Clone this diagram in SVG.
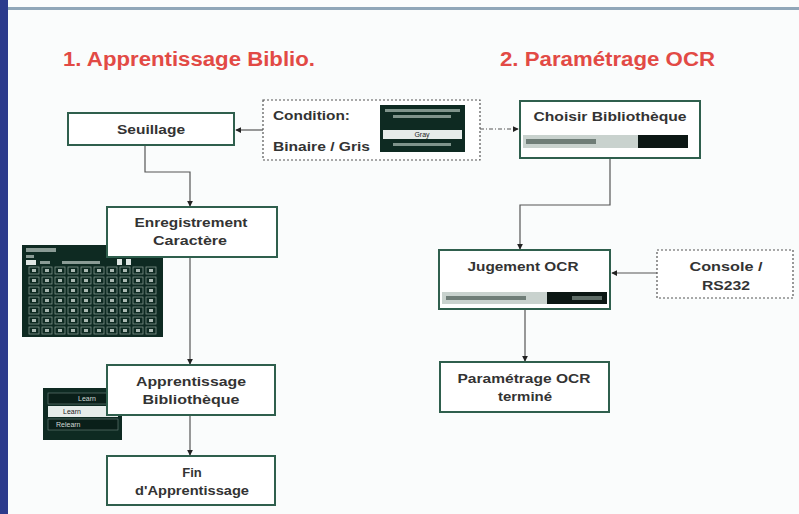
<svg xmlns="http://www.w3.org/2000/svg" width="799" height="514" viewBox="0 0 799 514">
<defs>
<style>
.bg{fill:#fafcfc}
.title{font-family:"Liberation Sans",Arial,sans-serif;font-weight:bold;font-size:20px;fill:#e24a45}
.node rect.box{fill:#ffffff;stroke:#2f5f4d;stroke-width:2}
.dash{fill:#ffffff;stroke:#555;stroke-width:1.2;stroke-dasharray:2 2}
.lbl{font-family:"Liberation Sans",Arial,sans-serif;font-weight:bold;font-size:13px;fill:#333}
.ctr{text-anchor:middle}
.conn{fill:none;stroke:#555;stroke-width:1.2}
.dd{stroke-dasharray:4 2 1 2}
.scr{fill:#0e2a22}
.scrtxt{font-family:"Liberation Sans",Arial,sans-serif;font-size:7px;fill:#cfd8d4}
.scrtxtd{font-family:"Liberation Sans",Arial,sans-serif;font-size:7px;fill:#222}
</style>
<marker id="ah" viewBox="0 0 8 8" refX="7" refY="4" markerWidth="6" markerHeight="6" orient="auto" markerUnits="userSpaceOnUse">
<path d="M0,0 L8,4 L0,8 Z" fill="#222"/>
</marker>
<pattern id="grid" x="28" y="266" width="13" height="10" patternUnits="userSpaceOnUse">
<rect x="1" y="1" width="10" height="7" fill="none" stroke="#7f938b" stroke-width="0.8"/>
<rect x="4" y="3" width="4" height="3" fill="#aab8b2"/>
</pattern>
</defs>
<rect class="bg" x="0" y="0" width="799" height="514"/>
<rect x="0" y="0" width="8" height="514" fill="#2c3b8c"/>
<rect x="8" y="7" width="791" height="3" fill="#8fa6b8"/>

<text class="title" x="63" y="66" textLength="252" lengthAdjust="spacingAndGlyphs">1. Apprentissage Biblio.</text>
<text class="title" x="500" y="66" textLength="215" lengthAdjust="spacingAndGlyphs">2. Paramétrage OCR</text>

<g id="connectors">
<line class="conn" x1="263" y1="130" x2="236" y2="130" marker-end="url(#ah)"/>
<line class="conn dd" x1="480" y1="129" x2="518" y2="129" marker-end="url(#ah)"/>
<polyline class="conn" points="145,146 145,172 190,172 190,206" marker-end="url(#ah)"/>
<line class="conn" x1="190" y1="258" x2="190" y2="364" marker-end="url(#ah)"/>
<line class="conn" x1="190" y1="416" x2="190" y2="455" marker-end="url(#ah)"/>
<polyline class="conn" points="610,159 610,205 520,205 520,249" marker-end="url(#ah)"/>
<line class="conn" x1="657" y1="273" x2="612" y2="273" marker-end="url(#ah)"/>
<line class="conn" x1="525" y1="310" x2="525" y2="361" marker-end="url(#ah)"/>
</g>

<g id="screen-grid">
<rect class="scr" x="22" y="245" width="141" height="92"/>
<rect x="26" y="248" width="30" height="4" fill="#8a9b95"/>
<rect x="26" y="255" width="8" height="3" fill="#8a9b95"/>
<rect x="26" y="260" width="10" height="5" fill="#dfe6e3"/>
<rect x="40" y="261" width="10" height="3" fill="#8a9b95"/>
<rect x="62" y="261" width="38" height="3" fill="#8a9b95"/>
<rect x="117" y="259" width="5" height="6" fill="#dfe6e3"/>
<rect x="126" y="259" width="5" height="6" fill="#dfe6e3"/>
<rect x="28" y="266" width="130" height="70" fill="url(#grid)"/>
</g>

<g id="screen-learn">
<rect class="scr" x="43" y="388" width="79" height="52"/>
<rect x="48" y="393" width="70" height="11" fill="#0a1f19" stroke="#6f8580" stroke-width="0.6"/>
<text class="scrtxt" x="78" y="401">Learn</text>
<rect x="48" y="406" width="70" height="11" fill="#e6ecea"/>
<text class="scrtxtd" x="63" y="414">Learn</text>
<rect x="48" y="419" width="70" height="11" fill="#0a1f19" stroke="#6f8580" stroke-width="0.6"/>
<text class="scrtxt" x="56" y="427">Relearn</text>
</g>

<g id="n-seuillage" class="node">
<rect class="box" x="68" y="113" width="166" height="32"/>
<text class="lbl ctr" x="151" y="134" textLength="68" lengthAdjust="spacingAndGlyphs">Seuillage</text>
</g>

<g id="n-condition" class="node">
<rect class="dash" x="263" y="100" width="217" height="60"/>
<text class="lbl" x="273" y="120" textLength="77" lengthAdjust="spacingAndGlyphs">Condition:</text>
<text class="lbl" x="273" y="151" textLength="97" lengthAdjust="spacingAndGlyphs">Binaire / Gris</text>
<rect class="scr" x="380" y="105" width="85" height="47"/>
<rect x="385" y="109" width="75" height="3" fill="#7f938b"/>
<rect x="393" y="115" width="58" height="3" fill="#7f938b"/>
<rect x="383" y="130" width="79" height="9" fill="#e6ecea"/>
<text class="scrtxtd ctr" x="422" y="137">Gray</text>
<rect x="393" y="143" width="58" height="3" fill="#7f938b"/>
</g>

<g id="n-choisir" class="node">
<rect class="box" x="520" y="101" width="180" height="57"/>
<text class="lbl ctr" x="610" y="121" textLength="153" lengthAdjust="spacingAndGlyphs">Choisir Bibliothèque</text>
<rect x="523" y="135" width="115" height="13" fill="#c9d2ce"/>
<rect x="638" y="135" width="50" height="13" fill="#0c1714"/>
<rect x="526" y="139" width="70" height="5" fill="#6f7d77"/>
</g>

<g id="n-enregistrement" class="node">
<rect class="box" x="107" y="207" width="170" height="50"/>
<text class="lbl ctr" x="191" y="227" textLength="113" lengthAdjust="spacingAndGlyphs">Enregistrement</text>
<text class="lbl ctr" x="190" y="245" textLength="74" lengthAdjust="spacingAndGlyphs">Caractère</text>
</g>

<g id="n-apprentissage" class="node">
<rect class="box" x="107" y="365" width="168" height="50"/>
<text class="lbl ctr" x="191" y="386" textLength="110" lengthAdjust="spacingAndGlyphs">Apprentissage</text>
<text class="lbl ctr" x="191" y="404" textLength="97" lengthAdjust="spacingAndGlyphs">Bibliothèque</text>
</g>

<g id="n-fin" class="node">
<rect class="box" x="107" y="456" width="168" height="49"/>
<text class="lbl ctr" x="192" y="477">Fin</text>
<text class="lbl ctr" x="192" y="495" textLength="114" lengthAdjust="spacingAndGlyphs">d'Apprentissage</text>
</g>

<g id="n-jugement" class="node">
<rect class="box" x="439" y="250" width="171" height="59"/>
<text class="lbl ctr" x="523" y="271" textLength="111" lengthAdjust="spacingAndGlyphs">Jugement OCR</text>
<rect x="442" y="292" width="105" height="12" fill="#c9d2ce"/>
<rect x="547" y="292" width="60" height="12" fill="#0c1714"/>
<rect x="446" y="296" width="80" height="4" fill="#6f7d77"/>
<rect x="572" y="296" width="30" height="4" fill="#5f6d67"/>
</g>

<g id="n-console" class="node">
<rect class="dash" x="657" y="250" width="136" height="48"/>
<text class="lbl ctr" x="726" y="271" textLength="73" lengthAdjust="spacingAndGlyphs">Console /</text>
<text class="lbl ctr" x="726" y="290" textLength="48" lengthAdjust="spacingAndGlyphs">RS232</text>
</g>

<g id="n-parametrage" class="node">
<rect class="box" x="440" y="362" width="169" height="50"/>
<text class="lbl ctr" x="524" y="383" textLength="133" lengthAdjust="spacingAndGlyphs">Paramétrage OCR</text>
<text class="lbl ctr" x="525" y="401" textLength="54" lengthAdjust="spacingAndGlyphs">terminé</text>
</g>
</svg>
